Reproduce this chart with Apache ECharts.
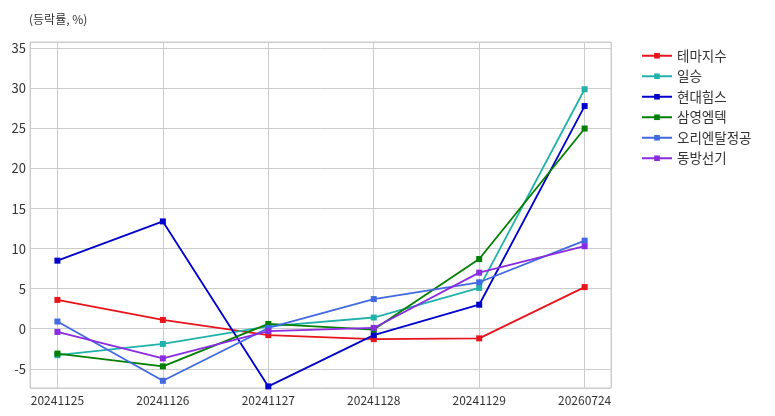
<!DOCTYPE html>
<html>
<head>
    <meta charset="utf-8">
    <title>등락률</title>
    <script src="https://cdn.jsdelivr.net/npm/echarts@6/dist/echarts.min.js"></script>
    <style type="text/css">
        html, body {
            margin: 0;
            padding: 0;
            background: #ffffff;
        }
        #main {
            width: 775px;
            height: 416px;
        }
    </style>
</head>
<body>
<div id="main"></div>
<script>
    // 날짜 (x축)
    var dates = ['20241125', '20241126', '20241127', '20241128', '20241129', '20260724'];

    // 종목 이름
    var names = ['테마지수', '일승', '현대힘스', '삼영엠텍', '오리엔탈정공', '동방선기'];

    // 등락률 (%)
    var themeIdx = [3.6, 1.1, -0.8, -1.3, -1.2, 5.2];
    var ilseung = [-3.3, -1.9, 0.3, 1.4, 5.1, 29.9];
    var hyundaiHims = [8.5, 13.4, -7.2, -0.8, 3.0, 27.8];
    var samyoung = [-3.1, -4.7, 0.6, -0.1, 8.7, 25.0];
    var oriental = [0.9, -6.5, 0.1, 3.7, 5.8, 11.0];
    var dongbang = [-0.4, -3.7, -0.3, 0.1, 7.0, 10.3];

    var colors = ['#e8141b', '#20b2aa', '#0000cd', '#007f00', '#4169e1', '#8a2be2'];
    var values = [themeIdx, ilseung, hyundaiHims, samyoung, oriental, dongbang];

    var font = '"Noto Sans CJK KR", "Noto Sans", sans-serif';

    var series = [];
    for (var i = 0; i < names.length; i++) {
        series.push({
            name: names[i],
            type: 'line',
            data: values[i].map(function (v, k) {
                return [k, v];
            }),
            symbol: 'rect',
            symbolSize: 6,
            showSymbol: true,
            lineStyle: {width: 1.8, color: colors[i]},
            itemStyle: {color: colors[i]},
            emphasis: {disabled: true},
            animation: false
        });
    }

    var chart = echarts.init(document.getElementById('main'));
    var option = {
        backgroundColor: '#ffffff',
        textStyle: {fontFamily: font},
        title: {
            text: '(등락률, %)',
            left: 24,
            top: 8,
            textStyle: {fontSize: 12, fontWeight: 'normal', color: '#333', fontFamily: font}
        },
        legend: {
            orient: 'vertical',
            left: 636,
            top: 44,
            itemWidth: 30,
            itemHeight: 7,
            itemGap: 7,
            data: names,
            textStyle: {fontSize: 13.5, color: '#333', fontFamily: font}
        },
        grid: {
            left: 30,
            right: 164,
            top: 42,
            bottom: 28,
            show: true,
            borderColor: '#cccccc',
            borderWidth: 1
        },
        xAxis: {
            type: 'value',
            min: -0.26,
            max: 5.25,
            splitNumber: 6,
            axisLine: {show: false},
            axisTick: {show: false},
            splitLine: {show: true, lineStyle: {color: '#cccccc', width: 1}},
            axisLabel: {
                showMinLabel: false,
                showMaxLabel: false,
                fontSize: 12,
                color: '#333',
                margin: 6,
                fontFamily: font,
                formatter: function (v) {
                    var k = Math.round(v);
                    return Math.abs(v - k) < 1e-6 && dates[k] ? dates[k] : '';
                }
            }
        },
        yAxis: {
            type: 'value',
            min: -7.4,
            max: 35.8,
            splitNumber: 9,
            axisLine: {show: false},
            axisTick: {show: false},
            splitLine: {show: true, lineStyle: {color: '#cccccc', width: 1}},
            axisLabel: {
                showMinLabel: false,
                showMaxLabel: false,
                fontSize: 13,
                color: '#333',
                margin: 4,
                fontFamily: font,
                formatter: function (v) {
                    var k = Math.round(v);
                    return Math.abs(v - k) < 1e-6 && k % 5 === 0 ? String(k) : '';
                }
            }
        },
        series: series
    };
    chart.setOption(option);
</script>
</body>
</html>
